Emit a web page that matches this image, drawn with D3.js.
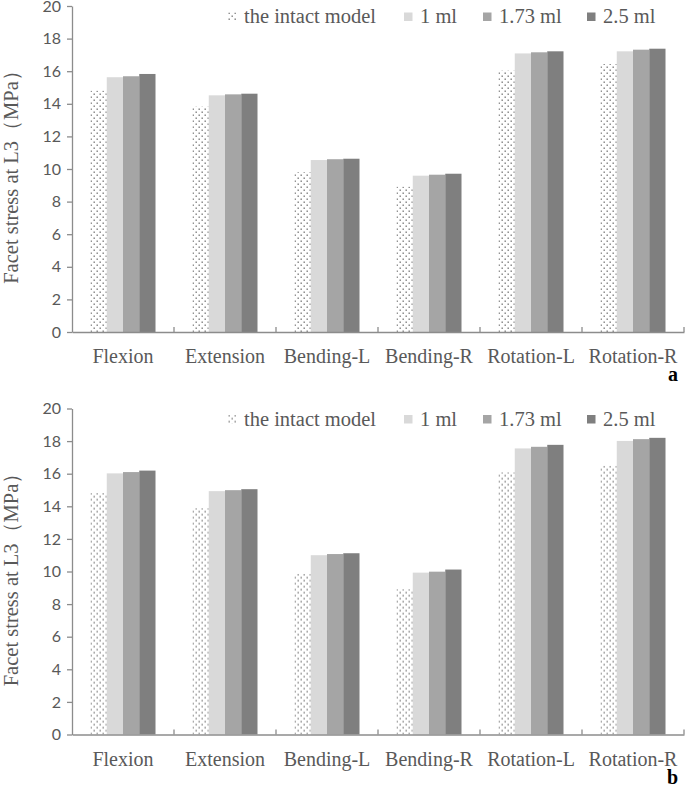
<!DOCTYPE html>
<html><head><meta charset="utf-8">
<script src="https://cdn.jsdelivr.net/npm/d3@7"></script>
<style>body{margin:0;background:#fff}svg{display:block}</style>
</head><body>
<svg id="c" width="685" height="792"></svg>
<script>
const categories = ["Flexion","Extension","Bending-L","Bending-R","Rotation-L","Rotation-R"];
const seriesNames = ["the intact model","1 ml","1.73 ml","2.5 ml"];
const seriesColors = ["url(#dots)","#d9d9d9","#a5a5a5","#7f7f7f"];
const yTicks = [0,2,4,6,8,10,12,14,16,18,20];
// panel a
const intactA = [14.8, 13.82, 9.8, 8.91, 16.03, 16.44];
const ml1A    = [15.63, 14.52, 10.55, 9.59, 17.09, 17.22];
const ml173A  = [15.69, 14.58, 10.6, 9.65, 17.16, 17.32];
const ml25A   = [15.83, 14.62, 10.63, 9.71, 17.22, 17.38];
// panel b
const intactB = [14.81, 13.88, 9.85, 8.91, 16.08, 16.48];
const ml1B    = [16.02, 14.93, 11.0, 9.93, 17.55, 18.01];
const ml173B  = [16.1, 14.99, 11.07, 9.99, 17.65, 18.12];
const ml25B   = [16.19, 15.05, 11.12, 10.12, 17.77, 18.2];
const panelLetters = ["a","b"];

const svg = d3.select("#c");
const defs = svg.append("defs");
const pat = defs.append("pattern").attr("id","dots").attr("patternUnits","userSpaceOnUse")
  .attr("width",6).attr("height",6);
pat.append("rect").attr("width",6).attr("height",6).attr("fill","#fff");
pat.append("rect").attr("x",0.5).attr("y",0.5).attr("width",1.4).attr("height",1.4).attr("fill","#7a7a7a");
pat.append("rect").attr("x",3.5).attr("y",3.5).attr("width",1.4).attr("height",1.4).attr("fill","#7a7a7a");

const axisColor = "#8c8c8c", textColor = "#595959";
const serif = "'Liberation Serif','Times New Roman',serif";
const sans = "Lato,'Open Sans',sans-serif";

function drawPanel(off, data, letter) {
  const g = svg.append("g").attr("transform", `translate(0,${off})`);
  const left = 72, right = 684, top = 6, bottom = 332;
  const y = d3.scaleLinear().domain([0,20]).range([bottom, top]);
  const x0 = d3.scaleBand().domain(categories).range([left, right]).padding(0);
  const bw = 16.25;
  const po = (x0.bandwidth()/bw - 4)/2;
  const x1 = d3.scaleBand().domain(seriesNames).range([0, x0.bandwidth()]).paddingInner(0).paddingOuter(po);

  // bars
  categories.forEach((c, i) => {
    seriesNames.forEach((s, j) => {
      const v = data[j][i];
      g.append("rect")
        .attr("x", x0(c) + x1(s)).attr("width", x1.bandwidth())
        .attr("y", y(v)).attr("height", y(0) - y(v))
        .attr("fill", seriesColors[j]);
    });
  });

  // y axis
  const ya = d3.axisLeft(y).tickValues(yTicks).tickSize(5).tickPadding(6).tickSizeOuter(0);
  const yg = g.append("g").attr("transform", `translate(${left},0)`).call(ya);
  yg.select(".domain").attr("stroke", axisColor).attr("stroke-width", 1.3);
  yg.selectAll(".tick line").attr("stroke", axisColor).attr("stroke-width", 1.3);
  yg.selectAll(".tick text").attr("fill", textColor).style("font-family", sans).style("font-size", "16px");

  // x axis
  const xa = d3.axisBottom(x0).tickSize(0).tickPadding(0).tickSizeOuter(0);
  const xg = g.append("g").attr("transform", `translate(0,${bottom})`).call(xa);
  xg.select(".domain").attr("stroke", axisColor).attr("stroke-width", 1.3);
  xg.selectAll(".tick text").attr("fill", textColor).style("font-family", serif).style("font-size", "20px")
    .attr("dy", null).attr("y", 31);
  // category boundary ticks (upward)
  categories.forEach(c => {
    const bx = x0(c) + x0.bandwidth();
    g.append("line").attr("x1", bx).attr("x2", bx).attr("y1", bottom).attr("y2", bottom - 5)
      .attr("stroke", axisColor).attr("stroke-width", 1.3);
  });

  // y title
  g.append("text").attr("transform", `translate(17.5,${172}) rotate(-90)`)
    .attr("text-anchor","middle").attr("fill", textColor)
    .style("font-family", serif).style("font-size","20.5px")
    .text("Facet stress at L3（MPa）");

  // legend
  const lx = [228, 404, 483, 587];
  seriesNames.forEach((s, j) => {
    g.append("rect").attr("x", lx[j]).attr("y", 12.5).attr("width", 8.5).attr("height", 8.5)
      .attr("fill", seriesColors[j]);
    g.append("text").attr("x", lx[j] + 16).attr("y", 23).attr("fill", textColor)
      .style("font-family", serif).style("font-size","20.5px").text(s);
  });

  // panel letter
  g.append("text").attr("x", 678).attr("y", 381).attr("text-anchor","end")
    .attr("fill","#000").style("font-family", serif).style("font-weight","bold").style("font-size","20px")
    .text(letter);
}

drawPanel(0, [intactA, ml1A, ml173A, ml25A], panelLetters[0]);
drawPanel(402.5, [intactB, ml1B, ml173B, ml25B], panelLetters[1]);
</script>
</body></html>
